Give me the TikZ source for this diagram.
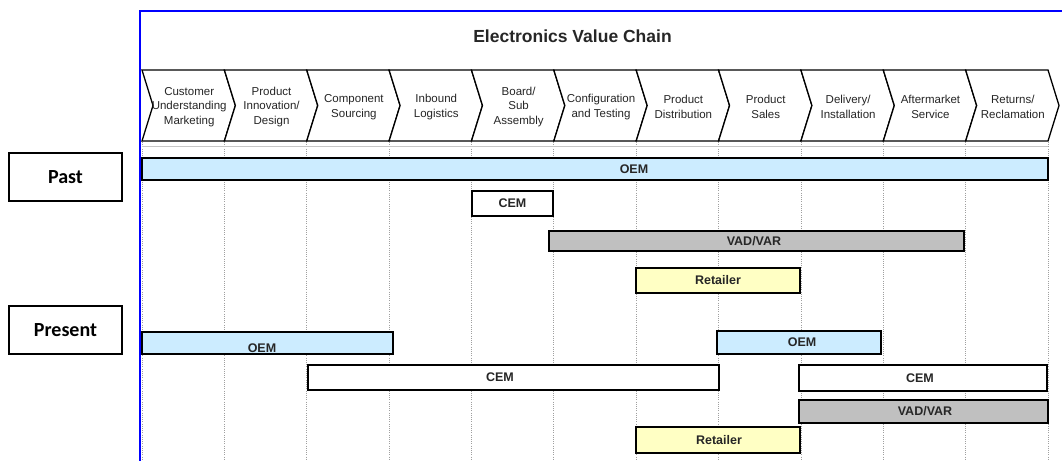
\documentclass[tikz,border=0pt]{standalone}
\usepackage{fontspec}
\setmainfont{Liberation Sans}
\newfontfamily\calibfont{Carlito}
\definecolor{oemblue}{RGB}{204,236,255}
\definecolor{vadgray}{RGB}{192,192,192}
\definecolor{retyellow}{RGB}{255,255,196}
\definecolor{frameblue}{RGB}{0,0,255}

\begin{document}
\begin{tikzpicture}[x=1pt,y=-1pt,
  chev/.style={draw=black, line width=1.3pt, fill=white, line join=miter},
  chevtext/.style={align=center, font=\fontsize{11.5}{14.5}\selectfont, inner sep=0pt, text=black!85},
  barbox/.style={draw=black, line width=2.6pt, anchor=north west, inner sep=0pt, outer sep=0pt,
                 font=\bfseries\fontsize{12.5}{14}\selectfont, text=black!85},
  barlabel/.style={font=\bfseries\fontsize{12.5}{14}\selectfont, text=black!85, inner sep=0pt},
  era/.style={draw=black, line width=1.8pt, minimum width=113, minimum height=48, inner sep=0pt,
              font=\calibfont\bfseries\fontsize{20}{24}\selectfont},
  guide/.style={gray!75, line width=0.8pt, dash pattern=on 1pt off 1.2pt},
]
\useasboundingbox (0,0) rectangle (1062,461);

% title
\node[font=\bfseries\fontsize{17.5}{20}\selectfont, text=black!85] (title) at (572.5,36) {Electronics Value Chain};

% dotted stage guides and rule under the chevrons
\foreach \i in {0,...,11}{
  \pgfmathsetmacro\gx{142+82.364*\i}
  \draw[guide] (\gx,142) -- (\gx,461);
}
\draw[gray!45, line width=0.6pt] (142,146.5) -- (1048,146.5);

% value chain chevrons
\foreach \i/\txt in {0/{Customer\\Understanding\\Marketing},
                     1/{Product\\Innovation/\\Design},
                     2/{Component\\Sourcing},
                     3/{Inbound\\Logistics},
                     4/{Board/\\Sub\\Assembly},
                     5/{Configuration\\and Testing},
                     6/{Product\\Distribution},
                     7/{Product\\Sales},
                     8/{Delivery/\\Installation},
                     9/{Aftermarket\\Service},
                     10/{Returns/\\Reclamation}}{
  \pgfmathsetmacro\xl{142+82.364*\i}
  \pgfmathsetmacro\xr{\xl+82.364}
  \draw[chev] (\xl,70) -- (\xr,70) -- (\xr+11,105.5) -- (\xr,141) -- (\xl,141) -- (\xl+11,105.5) -- cycle;
  \node[chevtext] (stage\i) at ({(\xl+\xr)/2+6},107) {\txt};
}

% Past
\node[era] (past) at (65.5,177) {Past};
\node[barbox, fill=oemblue, minimum width=906, minimum height=22] (pastoem) at (142,158) {};
\node[barlabel] (pastoemlabel) at (634,169) {OEM};
\node[barbox, fill=white, minimum width=81, minimum height=25] (pastcem) at (472,191) {CEM};
\node[barbox, fill=vadgray, minimum width=415, minimum height=20] (pastvad) at (549,231) {};
\node[barlabel] (pastvadlabel) at (754,241) {VAD/VAR};
\node[barbox, fill=retyellow, minimum width=164, minimum height=25] (pastret) at (636,268) {Retailer};

% Present
\node[era] (present) at (65.5,330) {Present};
\node[barbox, fill=oemblue, minimum width=251, minimum height=22] (presoema) at (142,332) {};
\node[barlabel] (presoemalabel) at (262,348) {OEM};
\node[barbox, fill=oemblue, minimum width=164, minimum height=23] (presoemb) at (717,331) {};
\node[barlabel] (presoemblabel) at (802,342.5) {OEM};
\node[barbox, fill=white, minimum width=411, minimum height=25] (prescema) at (308,365) {};
\node[barlabel] (prescemalabel) at (500,377.5) {CEM};
\node[barbox, fill=white, minimum width=248, minimum height=26] (prescemb) at (799,365) {};
\node[barlabel] (prescemblabel) at (920,378) {CEM};
\node[barbox, fill=vadgray, minimum width=249, minimum height=23] (presvad) at (799,400) {};
\node[barlabel] (presvadlabel) at (925,411.5) {VAD/VAR};
\node[barbox, fill=retyellow, minimum width=164, minimum height=26] (presret) at (636,427) {};
\node[barlabel] (presretlabel) at (719,440) {Retailer};

% blue frame
\draw[frameblue, line width=2pt] (1062,11) -- (140,11) -- (140,461);
\end{tikzpicture}
\end{document}
